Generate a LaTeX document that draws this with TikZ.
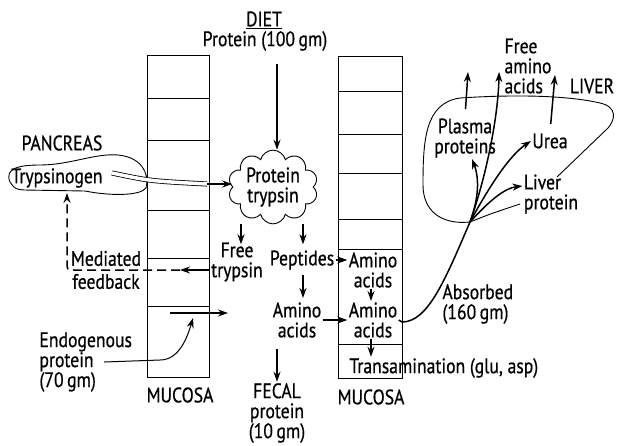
\documentclass[tikz,border=0pt]{standalone}
\usepackage{fontspec}
\setmainfont{PT Sans}[FakeStretch=0.84,FakeBold=0.6]
\usetikzlibrary{shapes.symbols,arrows.meta}

\begin{document}
\begin{tikzpicture}[x=1pt,y=-1pt,>={Stealth[length=10pt,width=7pt]},line width=0.9pt,
    every node/.style={font=\fontsize{21}{20}\selectfont,inner sep=1pt,align=center},
    flow/.style={->,line width=1.5pt}]
  \useasboundingbox (0,0) rectangle (620,445);
  % mucosa columns
  \draw (147,55) rectangle (209,377);
  \foreach \y in {98,140,210,258,306}
    \draw (147,\y) -- (209,\y);
  \draw (338,56) rectangle (402,378);
  \foreach \y in {91,134,173,219,249,344}
    \draw (338,\y) -- (402,\y);
  \node (mucl) at (180,395) {MUCOSA};
  \node (mucr) at (371,397) {MUCOSA};

  % diet and lumen
  \node (diet) at (264,20) {\underline{DIET}};
  \node (prot) at (265,41) {Protein (100\,gm)};
  \node[cloud,draw,cloud puffs=10,aspect=1.3,inner sep=0pt,
        minimum width=90pt,minimum height=68pt] (cloud) at (273,187) {Protein\\trypsin};
  \draw[flow,shorten <=12pt] (prot.south -| 277,0) -- (cloud.north -| 277,0);
  \node (free) at (237,262) {Free\\trypsin};
  \node (pep) at (302,260) {Peptides};
  \node (amid) at (297,320) {Amino\\acids};
  \node (fecal) at (277,413) {FECAL\\protein\\(10\,gm)};
  \draw[flow] (free |- cloud.south) ++(4,0) -- ++(0,20);
  \draw[flow] (pep |- cloud.south) ++(1,0) -- ++(0,20);
  \draw[flow] (pep.south) ++(1,4) -- (303,298);
  \draw[flow] (fecal |- amid.south) ++(0,10) -- (fecal.north);

  % pancreas
  \node (panc) at (62,143) {PANCREAS};
  \node (tryp) at (57,178) {Trypsinogen};
  \draw (10,182) .. controls (4,168) and (20,165) .. (40,165)
    .. controls (70,165) and (95,153) .. (118,155)
    .. controls (140,157) and (150,172) .. (146,188)
    .. controls (140,196) and (110,196) .. (85,191)
    -- (24,190) .. controls (15,189) .. (10,182);
  \coordinate (pipe) at (207,184);
  \draw[double,double distance=3.5pt,line width=0.8pt] (112,173) .. controls (150,181) .. (pipe);
  \draw[flow] (pipe) -- (cloud.west |- pipe);

  % feedback
  \coordinate (fb) at (180,270);
  \coordinate (fbup) at (67,270);
  \coordinate (fbtip) at (67,193);
  \draw[flow] (free.west |- fb) -- (fb);
  \draw[flow,dash pattern=on 9pt off 5pt] (fb) -- ([xshift=8pt]fbup) .. controls (fbup) .. ([yshift=8pt]fbup) -- (fbtip);
  \node (med) at (106,270) {Mediated\\[3pt]feedback};

  % endogenous protein
  \node[anchor=west,align=left] (endo) at (38,362) {Endogenous\\protein\\(70\,gm)};
  \coordinate (endotip) at (193,318);
  \draw[->,line width=1pt] ([xshift=66pt]endo.west) -- (160,360) .. controls (180,360) and (188,335) .. (endotip);
  \coordinate (secl) at (170,313);
  \coordinate (secr) at (228,313);
  \draw[flow] (secl) -- (secr);

  % mucosal amino acids
  \node (aa1) at (373,270) {Amino\\acids};
  \node (aa2) at (373,320) {Amino\\acids};
  \node[anchor=west] (trans) at (348,368) {Transamination (glu, asp)};
  \draw[flow] (pep.east) -- (pep.east -| aa1.west);
  \draw[flow] (aa1.south -| 371,0) -- (aa2.north -| 371,0);
  \draw[flow] (amid.east) -- (aa2.west);
  \draw[flow] (aa2.south -| 371,0) -- (trans.north -| 371,0);

  % liver
  \coordinate (junc) at (470,222);
  \node[anchor=west,align=left] (abs) at (441,304) {Absorbed\\(160\,gm)};
  \draw[line width=1.5pt] (aa2.east) -- (402,322) .. controls (428,322) and (445,280) .. (junc);
  \draw (junc) .. controls (440,225) and (423,210) .. (423,185)
    .. controls (423,140) and (425,103) .. (460,98)
    .. controls (520,94) and (570,96) .. (600,103)
    .. controls (618,107) and (615,120) .. (608,128) -- (557,177);
  \draw (junc) .. controls (490,214) .. (520,204);
  \node (plasma) at (465,138) {Plasma\\proteins};
  \node (urea) at (550,141) {Urea};
  \node[align=left] (lprot) at (551,194) {Liver\\protein};
  \node[align=left] (free2) at (528,66) {Free\\amino\\acids};
  \node (liver) at (592,86) {LIVER};
  \draw[flow] (junc) .. controls (478,200) and (480,180) .. ([xshift=7pt]plasma.south);
  \draw[flow] (junc) .. controls (485,180) and (498,120) .. ([shift={(-4pt,-6pt)}]free2.west);
  \draw[flow] (junc) .. controls (490,185) and (510,155) .. (urea.west);
  \draw[flow] (junc) .. controls (490,200) and (505,188) .. ([yshift=8pt]lprot.west);
  \coordinate (plup) at (468,72);
  \coordinate (urup) at (555,75);
  \draw[flow,shorten <=8pt] (plasma.north) -- (plup);
  \draw[flow,shorten <=8pt] (urea.north) -- (urup);
\end{tikzpicture}
\end{document}
